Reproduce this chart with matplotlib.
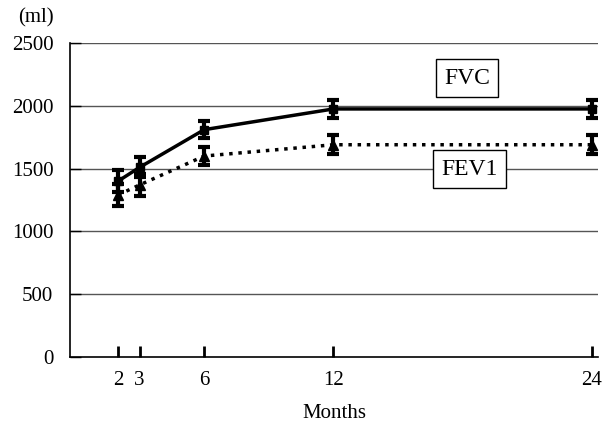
import numpy as np
import matplotlib.pyplot as plt

months = [2, 3, 6, 12, 24]
fvc = [1400, 1510, 1810, 1975, 1975]
fvc_err = [90, 80, 70, 70, 70]
fev1 = [1290, 1370, 1600, 1690, 1690]
fev1_err = [85, 85, 75, 75, 75]
y_ticks = [0, 500, 1000, 1500, 2000, 2500]

plt.rcParams['font.family'] = ['Liberation Serif', 'DejaVu Serif']

fig = plt.figure(figsize=(6.03, 4.23), dpi=100)
ax = fig.add_axes([70 / 603, 1 - 357 / 423, 528 / 603, 314 / 423])

# gridlines
for v in y_ticks[1:]:
    ax.axhline(v, color='#555555', lw=1.0, zorder=0)

ax.errorbar(months, fvc, yerr=fvc_err, color='black', lw=2.5, marker='s', ms=6,
            elinewidth=3, capsize=4.5, capthick=3, zorder=3)
ax.errorbar(months, fev1, yerr=fev1_err, color='black', lw=2.5, ls=':', marker='^', ms=7,
            elinewidth=3, capsize=4.5, capthick=3, zorder=3)

ax.set_xlim(-0.23, 24.28)
ax.set_ylim(0, 2500)
ax.set_xticks(months)
ax.set_yticks(y_ticks)
ax.tick_params(axis='x', direction='in', length=8, width=2, labelsize=15, pad=10)
ax.tick_params(axis='y', direction='in', length=8, width=1, labelsize=15, pad=12)
for s in ['top', 'right']:
    ax.spines[s].set_visible(False)
ax.spines['left'].set_linewidth(1.2)
ax.spines['bottom'].set_linewidth(1.2)

ax.set_xlabel('Months', fontsize=15, labelpad=10)

ax.text(18.2, 2220, 'FVC', fontsize=17, ha='center', va='center',
        bbox=dict(boxstyle='square,pad=0.35', fc='white', ec='black', lw=1))
ax.text(18.3, 1495, 'FEV1', fontsize=17, ha='center', va='center', zorder=4,
        bbox=dict(boxstyle='square,pad=0.35', fc='white', ec='black', lw=1))

fig.text(36 / 603, 1 - 18 / 423, '(ml)', fontsize=15, ha='center', va='center')

fig.savefig('out.png', dpi=100)
